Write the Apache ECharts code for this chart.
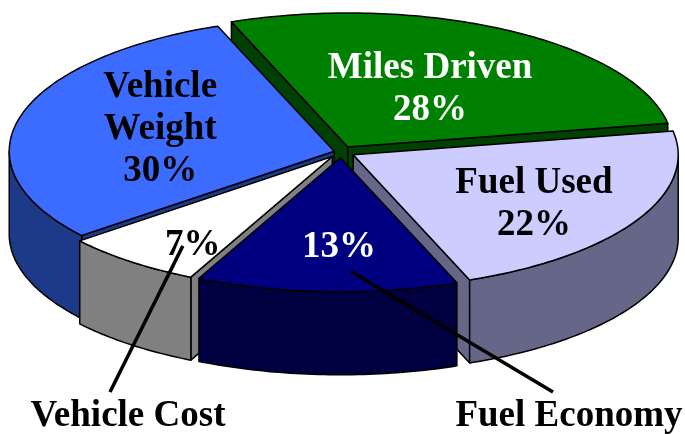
<!DOCTYPE html>
<html>
<head>
<meta charset="utf-8">
<script src="https://cdn.jsdelivr.net/npm/echarts@6/dist/echarts.min.js"></script>
<style>
  html, body { margin: 0; padding: 0; background: #fff; }
  #chart { width: 685px; height: 434px; }
</style>
</head>
<body>
<div id="chart"></div>
<script>
const categories = ["Miles Driven", "Fuel Used", "Fuel Economy", "Vehicle Cost", "Vehicle Weight"];
const shares = [28, 22, 13, 7, 30];
const outsideNames = ["Fuel Economy", "Vehicle Cost"];
const wrappedNames = ["Vehicle Weight"];

const topColors = ["#008000", "#ccccff", "#000080", "#ffffff", "#3b6cff"];
const sideColors = ["#004000", "#666688", "#000040", "#808080", "#1c3a87"];
const textColors = ["#ffffff", "#000000", "#ffffff", "#000000", "#000000"];

// layout of the tilted pie (px)
const cx = 341, cy = 152, rx = 325, ry = 134, depth = 83;
const startAngle = -21; // clockwise from 12 o'clock
const explode = [14, 14, 14, 14, 7];
const labelPos = [[0.5, 1], [0.67, 4.5], [0.67, -2], [0.79, -5.5], [0.56, 2]]; // radius, angle shift
const outsideLabel = {
  "Fuel Economy": { from: [0.85, -4.6], to: [553, 392], at: [569, 416] },
  "Vehicle Cost": { from: [0.81, -3.8], to: [110, 392], at: [128, 416] }
};
const font = { fontFamily: "Liberation Serif", fontWeight: "bold", fontSize: 37 };

const rad = d => d * Math.PI / 180;
const total = shares.reduce((a, b) => a + b, 0);
let acc = startAngle;
const slices = shares.map((v, i) => {
  const a1 = acc, a2 = acc + v / total * 360;
  acc = a2;
  const mid = (a1 + a2) / 2;
  return {
    a1, a2, mid,
    ox: cx + explode[i] * Math.sin(rad(mid)),
    oy: cy - explode[i] * Math.cos(rad(mid)) * ry / rx
  };
});

function pt(s, ang, r, dz) {
  return [s.ox + r * rx * Math.sin(rad(ang)), s.oy - r * ry * Math.cos(rad(ang)) + dz];
}
function arc(s, b1, b2, dz) {
  const n = Math.max(2, Math.ceil(b2 - b1));
  const pts = [];
  for (let k = 0; k <= n; k++) pts.push(pt(s, b1 + (b2 - b1) * k / n, 1, dz));
  return pts;
}

function renderItem(params, api) {
  const i = params.dataIndex;
  const s = slices[i];
  const name = categories[i];
  const edge = { stroke: "#000", lineWidth: 1.5, lineJoin: "round" };
  const children = [];

  // radial walls that face the viewer
  const walls = [];
  if (Math.sin(rad(s.a1)) < 0) walls.push(s.a1);
  if (Math.sin(rad(s.a2)) > 0) walls.push(s.a2);
  walls.forEach(a => {
    const p0 = pt(s, a, 0, 0), p1 = pt(s, a, 1, 0);
    children.push({
      type: "polygon",
      z2: 10 + (p0[1] + p1[1]) / 40,
      shape: { points: [p0, p1, pt(s, a, 1, depth), pt(s, a, 0, depth)] },
      style: Object.assign({ fill: sideColors[i] }, edge)
    });
  });

  // outer wall, front half only
  const b1 = Math.max(s.a1, 90), b2 = Math.min(s.a2, 270);
  if (b1 < b2) {
    const top = arc(s, b1, b2, 0);
    const bottom = arc(s, b1, b2, depth).reverse();
    children.push({
      type: "polygon",
      z2: 100 + pt(s, (b1 + b2) / 2, 1, 0)[1] / 10,
      shape: { points: top.concat(bottom) },
      style: Object.assign({ fill: sideColors[i] }, edge)
    });
  }

  // top face
  children.push({
    type: "polygon",
    z2: 1000,
    shape: { points: [pt(s, 0, 0, 0)].concat(arc(s, s.a1, s.a2, 0)) },
    style: Object.assign({ fill: topColors[i] }, edge)
  });

  // labels
  const pct = Math.round(api.value(0) / total * 100) + "%";
  let text = pct;
  if (outsideNames.indexOf(name) < 0) {
    const nm = wrappedNames.indexOf(name) >= 0 ? name.replace(" ", "\n") : name;
    text = nm + "\n" + pct;
  }
  const lp = pt(s, s.mid + labelPos[i][1], labelPos[i][0], 0);
  children.push({
    type: "text",
    z2: 2000,
    style: Object.assign({
      text: text, x: lp[0], y: lp[1], fill: textColors[i],
      align: "center", verticalAlign: "middle", lineHeight: 42
    }, font)
  });

  const out = outsideLabel[name];
  if (out) {
    const p = pt(s, s.mid + out.from[1], out.from[0], 0);
    children.push({
      type: "line",
      z2: 1500,
      shape: { x1: p[0], y1: p[1], x2: out.to[0], y2: out.to[1] },
      style: { stroke: "#000", lineWidth: 3.5 }
    });
    children.push({
      type: "text",
      z2: 2000,
      style: Object.assign({
        text: name, x: out.at[0], y: out.at[1], fill: "#000",
        align: "center", verticalAlign: "middle"
      }, font)
    });
  }

  return { type: "group", children: children };
}

const chart = echarts.init(document.getElementById("chart"));
chart.setOption({
  animation: false,
  backgroundColor: "#ffffff",
  series: [{
    type: "custom",
    coordinateSystem: "none",
    silent: true,
    renderItem: renderItem,
    data: shares.map((v, i) => ({ name: categories[i], value: [v] }))
  }]
});
window.addEventListener("resize", function () {
  chart.resize();
});
</script>
</body>
</html>
